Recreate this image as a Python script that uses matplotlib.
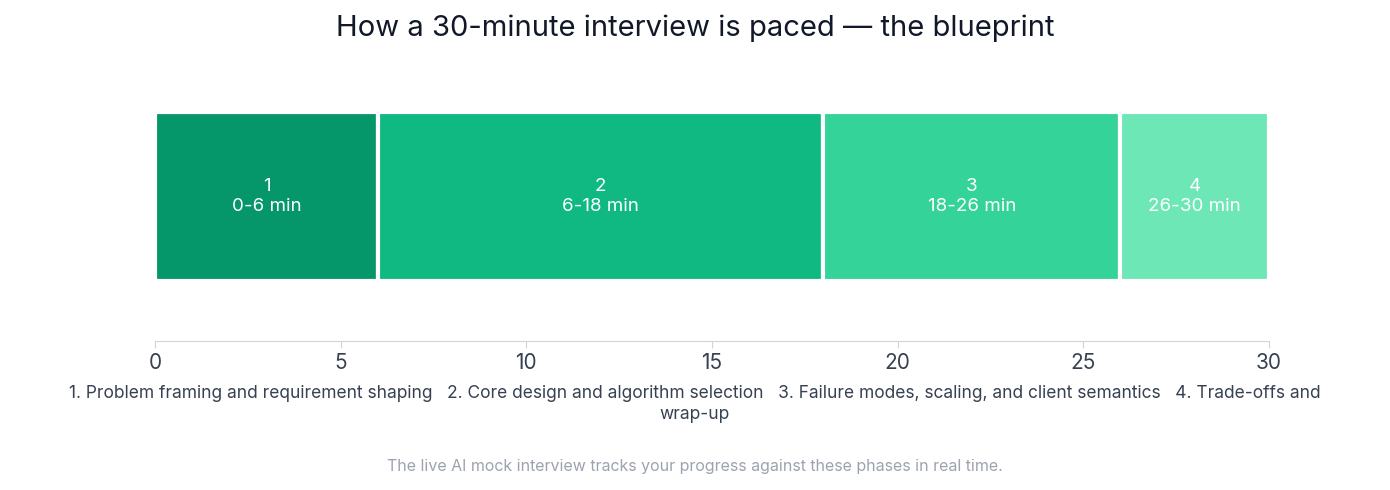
import matplotlib
matplotlib.use("Agg")
import matplotlib.pyplot as plt

phases = ["1. Problem framing and requirement shaping", "2. Core design and algorithm selection",
          "3. Failure modes, scaling, and client semantics", "4. Trade-offs and wrap-up"]
starts = [0, 6, 18, 26]
ends = [6, 18, 26, 30]
colors = ["#059669", "#10b981", "#34d399", "#6ee7b7"]
ticks = [0, 5, 10, 15, 20, 25, 30]

plt.rcParams['font.family'] = ['Inter', 'DejaVu Sans']
fig = plt.figure(figsize=(13.9, 4.9), dpi=100)
ax = fig.add_axes([155/1390, 1-341/490, 1114/1390, 281/490])
for i, (s, e, c) in enumerate(zip(starts, ends, colors)):
    ax.barh(0.514, e - s, left=s, height=0.6015, color=c, edgecolor="white", linewidth=3)
    ax.text((s + e) / 2, 0.514, f"{i+1}\n{s}-{e} min", ha="center", va="center",
            color="white", fontsize=13.5, linespacing=1.2)
ax.set_xlim(0, 30)
ax.set_ylim(0, 1)
ax.set_xticks(ticks)
ax.tick_params(axis="x", labelsize=15, colors="#374151", length=5, color="#d1d5db")
ax.tick_params(axis="x", labelcolor="#374151")
ax.set_yticks([])
for sp in ["top", "right", "left"]:
    ax.spines[sp].set_visible(False)
ax.spines["bottom"].set_color("#d1d5db")
fig.text(0.5, 1-28/490, "How a 30-minute interview is paced — the blueprint", ha="center", va="center",
         fontsize=21, color="#111827")
fig.text(0.5, 1-404/490, "   ".join(phases[:3]) + "   4. Trade-offs and\nwrap-up", ha="center", va="center",
         fontsize=12.5, color="#374151", linespacing=1.35)
fig.text(0.5, 1-466/490, "The live AI mock interview tracks your progress against these phases in real time.",
         ha="center", va="center", fontsize=11.5, color="#9ca3af")
fig.savefig("out.png", dpi=100)
